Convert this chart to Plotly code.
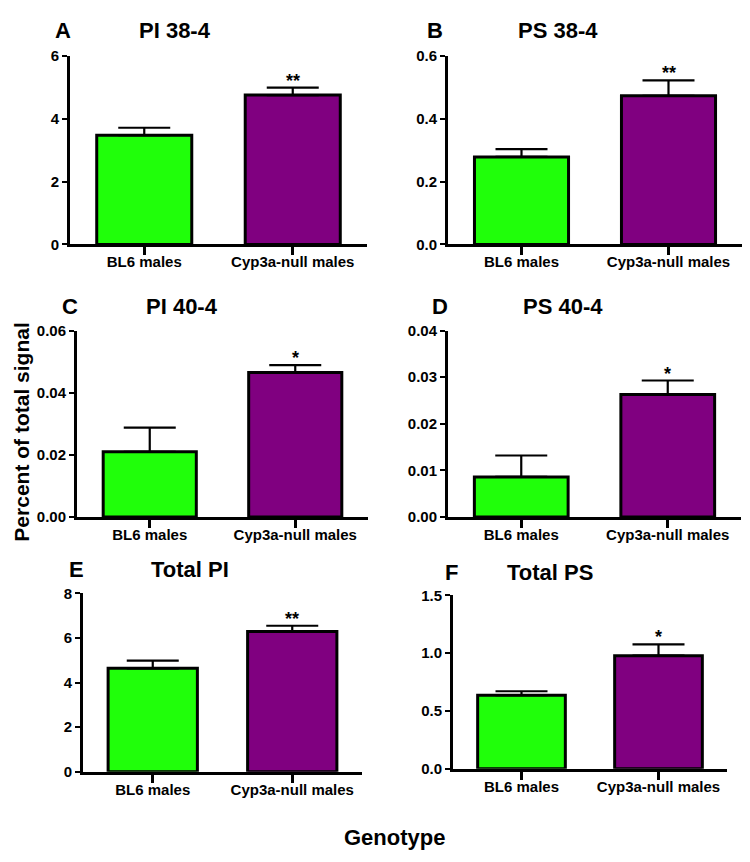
import plotly.graph_objects as go

categories = ["BL6 males", "Cyp3a-null males"]
panel_letters = ["A", "B", "C", "D", "E", "F"]
panel_titles = ["PI 38-4", "PS 38-4", "PI 40-4", "PS 40-4", "Total PI", "Total PS"]
means = [
    [3.48, 4.76],
    [0.279, 0.474],
    [0.021, 0.0465],
    [0.0086, 0.0263],
    [4.64, 6.29],
    [0.637, 0.979],
]
errors = [
    [0.24, 0.24],
    [0.025, 0.049],
    [0.0078, 0.0024],
    [0.0046, 0.0030],
    [0.35, 0.26],
    [0.034, 0.098],
]
stars = [["", "**"], ["", "**"], ["", "*"], ["", "*"], ["", "**"], ["", "*"]]
y_max = [6, 0.6, 0.06, 0.04, 8, 1.5]
y_dtick = [2, 0.2, 0.02, 0.01, 2, 0.5]
y_format = [".0f", ".1f", ".2f", ".2f", ".0f", ".1f"]
bar_colors = ["#20FF0A", "#800080"]

W, H = 750, 862
OFF = 8  # page body margin of the browser
# plot-area boxes in screen pixels: (x0, x1, ytop, ybottom)
boxes = [
    (70, 367, 48, 240),
    (448, 742, 48, 240),
    (77, 368, 328, 518),
    (448, 741, 328, 518),
    (83, 362, 596, 778),
    (453, 727, 598, 775),
]
title_pos = [  # letter x, title x, y
    (63, 175, 22),
    (435, 558, 22),
    (70, 182, 303),
    (440, 563, 303),
    (76, 190, 572),
    (451, 550, 575),
]


def px(x):
    return (x - OFF) / W


def py(y):
    return 1 - (y - OFF) / H


FONT = "Liberation Sans, Arial, sans-serif"
fig = go.Figure()
annotations = []
for i in range(6):
    n = "" if i == 0 else str(i + 1)
    x0, x1, yt, yb = boxes[i]
    fig.add_trace(go.Bar(
        x=categories, y=means[i],
        marker=dict(color=bar_colors, line=dict(color="black", width=3)),
        width=0.64,
        error_y=dict(type="data", symmetric=False, array=errors[i],
                     arrayminus=[0, 0], color="black", thickness=2.2, width=26),
        xaxis="x" + n, yaxis="y" + n, showlegend=False,
    ))
    fig.layout["xaxis" + n] = dict(
        domain=[px(x0), px(x1)], anchor="y" + n, range=[-0.5, 1.5],
        showline=True, linewidth=3, linecolor="black",
        ticks="outside", ticklen=8, tickwidth=3, tickcolor="black",
        ticklabelstandoff=-6,
        tickfont=dict(family=FONT, size=15, color="black", weight="bold"),
        showgrid=False, zeroline=False, fixedrange=True,
    )
    fig.layout["yaxis" + n] = dict(
        domain=[py(yb), py(yt)], anchor="x" + n, range=[0, y_max[i]],
        dtick=y_dtick[i], tick0=0, tickformat=y_format[i],
        showline=True, linewidth=3, linecolor="black",
        ticks="outside", ticklen=5, tickwidth=2, tickcolor="black",
        tickfont=dict(family=FONT, size=15, color="black", weight="bold"),
        showgrid=False, zeroline=False, fixedrange=True,
    )
    for j in range(2):
        if stars[i][j]:
            annotations.append(dict(
                x=categories[j], y=means[i][j] + errors[i][j],
                xref="x" + n, yref="y" + n, text=stars[i][j], showarrow=False,
                yanchor="bottom", yshift=-5,
                font=dict(family=FONT, size=18, color="black", weight="bold"),
            ))
    lx, tx, ty = title_pos[i]
    annotations.append(dict(x=px(lx), y=py(ty), xref="paper", yref="paper",
                            text=panel_letters[i], showarrow=False,
                            xanchor="center", yanchor="middle",
                            font=dict(family=FONT, size=22, color="black", weight="bold")))
    annotations.append(dict(x=px(tx), y=py(ty), xref="paper", yref="paper",
                            text=panel_titles[i], showarrow=False,
                            xanchor="center", yanchor="middle",
                            font=dict(family=FONT, size=22, color="black", weight="bold")))

annotations.append(dict(x=px(22), y=py(432), xref="paper", yref="paper",
                        text="Percent of total signal", showarrow=False, textangle=-90,
                        xanchor="center", yanchor="middle",
                        font=dict(family=FONT, size=21, color="black", weight="bold")))
annotations.append(dict(x=px(394), y=py(845), xref="paper", yref="paper",
                        text="Genotype", showarrow=False,
                        xanchor="center", yanchor="middle",
                        font=dict(family=FONT, size=22, color="black", weight="bold")))

fig.update_layout(
    width=W, height=H, margin=dict(l=0, r=0, t=0, b=0),
    paper_bgcolor="white", plot_bgcolor="white",
    annotations=annotations, bargap=0.3,
)
fig.write_html("out.html")
